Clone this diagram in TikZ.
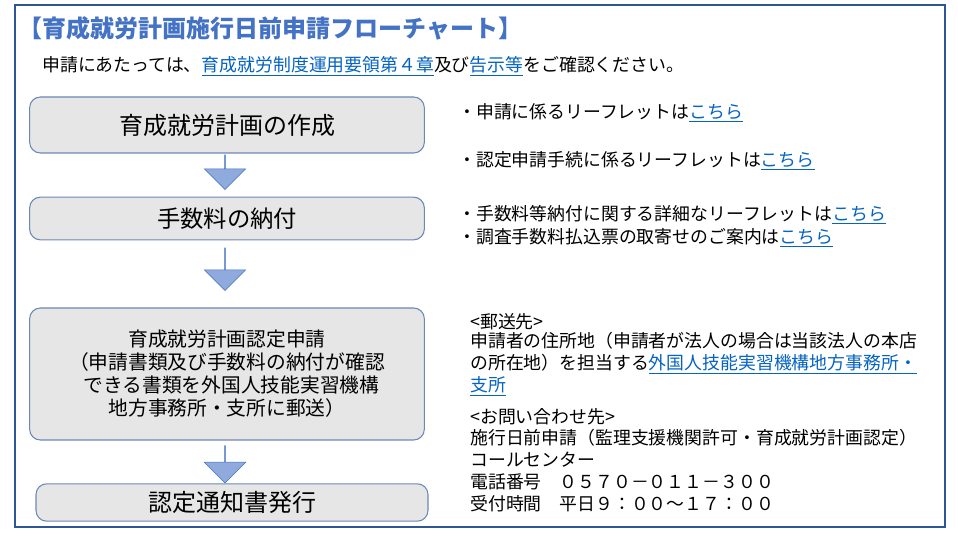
\documentclass[tikz,border=0pt]{standalone}
\usepackage{fontspec}
\setmainfont{Noto Sans CJK JP}
\usetikzlibrary{shapes.arrows}
\definecolor{frameblue}{HTML}{2F5597}
\definecolor{linkblue}{HTML}{0563C1}
\definecolor{titleblue}{HTML}{4472C4}
\definecolor{boxgray}{HTML}{E7E6E6}
\definecolor{arrowfill}{HTML}{8FAADC}
\definecolor{arrowline}{HTML}{4472C4}
\newcommand{\lnk}[1]{\textcolor{linkblue}{\underline{#1}}}
\tikzset{
  flowstep/.style={draw=frameblue!70, fill=boxgray, rounded corners=8pt, line width=0.8pt, align=center},
  flowarrow/.style={single arrow, draw=arrowline, fill=arrowfill, shape border rotate=270,
    minimum width=31pt, single arrow head extend=8.75pt, single arrow tip angle=90, inner sep=0pt},
  note/.style={anchor=west, font=\fontsize{13.4}{16.5}\selectfont, inner sep=0pt, align=left}
}
\begin{document}
\begin{tikzpicture}[x=0.75pt,y=-0.75pt]
\useasboundingbox (0,0) rectangle (958,538);
\draw[frameblue, line width=2pt] (15,5) rectangle (945,527);
\node[anchor=west, text=titleblue, font=\fontsize{18}{20}\bfseries\selectfont, inner sep=0pt] (title) at (18,28) {【育成就労計画施行日前申請フローチャート】};
\node[note] (intro) at (42,66) {申請にあたっては、\lnk{育成就労制度運用要領第４章}及び\lnk{告示等}をご確認ください。};
% flow
\node[flowstep, minimum width=296pt, minimum height=42pt, font=\fontsize{18}{20}\selectfont] (plan) at (227,125) {育成就労計画の作成};
\node[flowstep, minimum width=296pt, minimum height=32pt, font=\fontsize{17.5}{20}\selectfont] (fee) at (227,218.5) {手数料の納付};
\node[flowstep, minimum width=296pt, minimum height=99pt, font=\fontsize{14.8}{17.3}\selectfont] (apply) at (227,374) {育成就労計画認定申請\\（申請書類及び手数料の納付が確認\\\ \ できる書類を外国人技能実習機構\\地方事務所・支所に郵送）};
\node[flowstep, minimum width=294pt, minimum height=28pt, font=\fontsize{18}{20}\selectfont] (notice) at (232,502.5) {認定通知書発行};
\node[flowarrow, minimum height=26pt] (a1) at (225,172) {};
\node[flowarrow, minimum height=32pt] (a2) at (225,269) {};
\node[flowarrow, minimum height=28pt] (a3) at (225,464) {};
% notes
\node[note] (n1) at (458,113) {・申請に係るリーフレットは\lnk{こちら}};
\node[note] (n2) at (458,161) {・認定申請手続に係るリーフレットは\lnk{こちら}};
\node[note] (n3) at (458,215) {・手数料等納付に関する詳細なリーフレットは\lnk{こちら}};
\node[note] (n4) at (458,238) {・調査手数料払込票の取寄せのご案内は\lnk{こちら}};
\node[note] (mail) at (470,322) {<郵送先>};
\node[note, anchor=north west] (mailtxt) at (470,332) {申請者の住所地（申請者が法人の場合は当該法人の本店\\の所在地）を担当する\lnk{外国人技能実習機構地方事務所・}\\\lnk{支所}};
\node[note] (ask) at (470,417) {<お問い合わせ先>};
\node[note, anchor=north west] (asktxt) at (470,428.5) {施行日前申請（監理支援機関許可・育成就労計画認定）\\コールセンター\\電話番号　０５７０－０１１－３００\\受付時間　平日９：００～１７：００};
\end{tikzpicture}
\end{document}
